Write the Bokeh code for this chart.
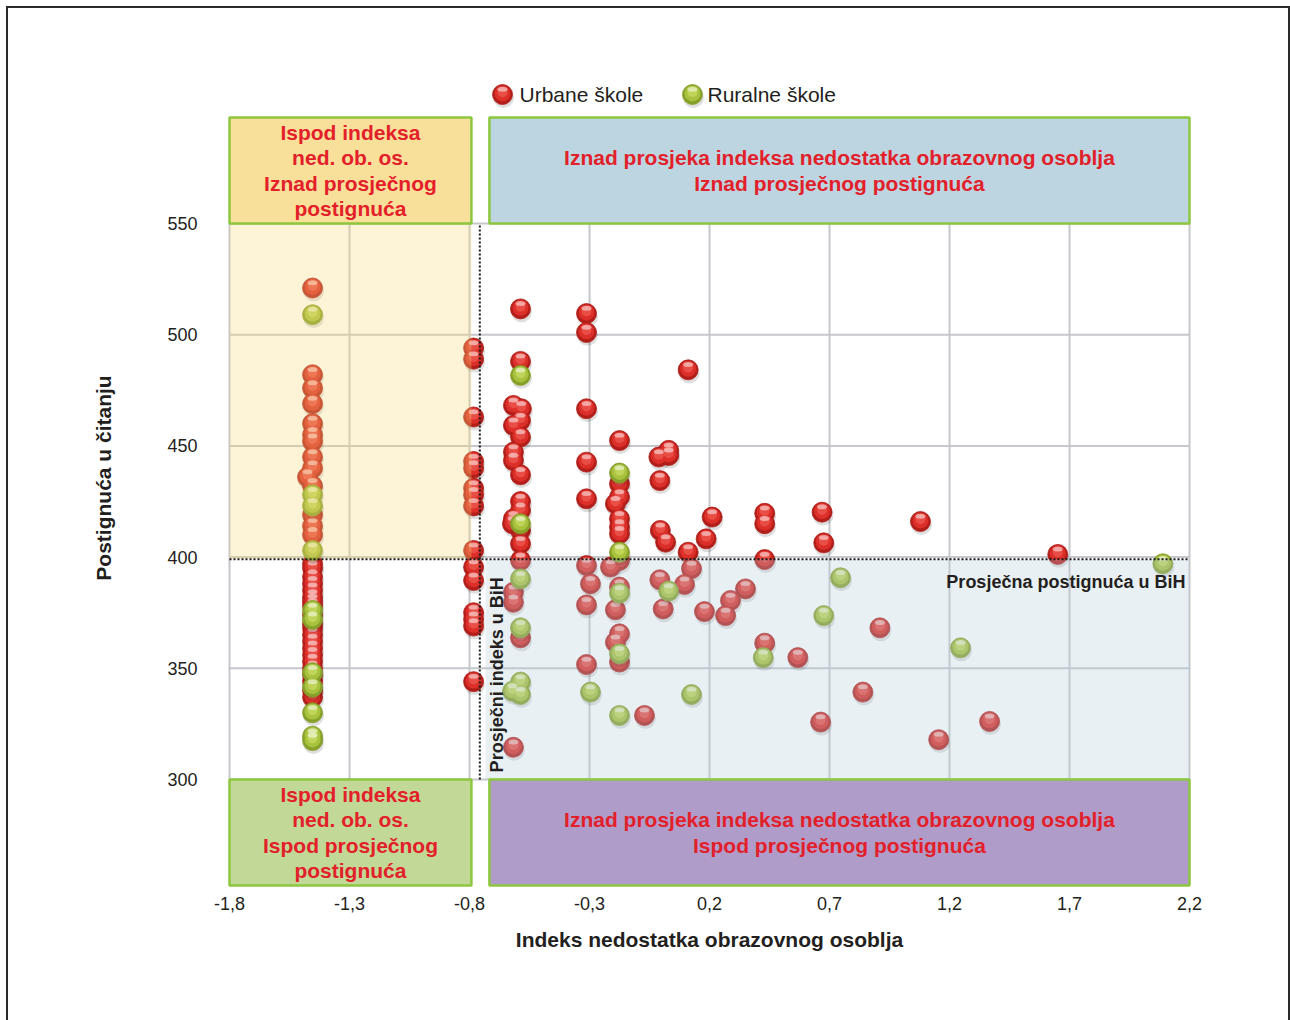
import numpy as np
from bokeh.plotting import figure
from bokeh.models import FixedTicker, Range1d
from bokeh.embed import file_html
from bokeh.resources import INLINE
from bokeh.core.properties import value

# ---------------- data ----------------
urban_x = (
    [-1.454] * 9 + [-1.475] + [-1.454] * 25
    + [-0.783] * 15
    + [-0.5875, -0.5875, -0.584, -0.5875, -0.5875, -0.5875, -0.5875, -0.5875, -0.5875, -0.5875, -0.5875, -0.5875]
    + [-0.617, -0.617, -0.617, -0.617, -0.617, -0.621, -0.617, -0.617, -0.617]
    + [-0.3125, -0.3125, -0.3125, -0.3125, -0.3125, -0.3125, -0.3125, -0.3125, -0.296]
    + [-0.2125]
    + [-0.175] * 10
    + [-0.192, -0.192, -0.192]
    + [-0.071, -0.011, -0.007, -0.005, 0.017, 0.030, 0.030, -0.007, 0.007, 0.096, 0.111, 0.111,
       0.125, 0.179, 0.186, 0.211, 0.267, 0.2875, 0.35]
    + [0.430, 0.430, 0.430, 0.430, 0.568, 0.669, 0.676, 0.663, 0.839, 0.910, 1.079, 1.155, 1.367, 1.651]
)
urban_y = (
    [521, 482, 476, 469, 460, 455, 452, 445, 440, 436, 432, 419, 414, 410, 397, 395, 391, 388, 385,
     382, 380, 378, 374, 370, 368, 365, 362, 359, 356, 353, 350, 347, 344, 340, 337]
    + [494, 489, 463, 443, 440, 431, 428, 423, 403, 395.5, 389.5, 375, 372, 369, 344]
    + [511.6, 488, 466.7, 461.4, 454, 437, 425, 421, 412, 406, 398.5, 363.7]
    + [468.2, 459.2, 447.2, 443.4, 417.2, 415, 384.2, 379.7, 314.5]
    + [509.5, 501, 466.7, 442.7, 426.2, 396.2, 378.5, 351.7, 388]
    + [395.5]
    + [452.4, 433, 427, 417.2, 413.5, 410.5, 398.5, 386.5, 365.5, 352.8]
    + [424, 376.3, 361.7]
    + [328.8, 445, 434.4, 412, 406.7, 448, 445.7, 389.8, 376.7, 387.7, 484.2, 402.2,
       394.8, 375.5, 408.2, 418, 373.7, 380.5, 385.7]
    + [419.7, 415, 398.9, 361.3, 354.8, 420.2, 406.4, 325.8, 339.3, 368.2, 416, 317.9, 326.1, 401.2]
)
rural_x = (
    [-1.454] * 11
    + [-0.5875, -0.5875, -0.5875, -0.5875, -0.5875, -0.5875, -0.621]
    + [-0.296]
    + [-0.175] * 5
    + [0.030, 0.125, 0.424, 0.676, 0.746, 1.246, 2.089]
)
rural_y = (
    [509, 428, 423, 403, 376, 372, 348, 341.5, 330, 319.5, 317.5]
    + [481.7, 415, 390.2, 368.2, 343.8, 338.2, 339.7]
    + [339.3]
    + [437.8, 402.2, 383.8, 356.5, 328.8]
    + [384.7, 338.2, 354.8, 373.7, 390.7, 359.2, 397]
)

series_names = ["Urbane škole", "Ruralne škole"]
x_ticks = [-1.8, -1.3, -0.8, -0.3, 0.2, 0.7, 1.2, 1.7, 2.2]
x_tick_labels = ["-1,8", "-1,3", "-0,8", "-0,3", "0,2", "0,7", "1,2", "1,7", "2,2"]
y_ticks = [300, 350, 400, 450, 500, 550]

avg_index = -0.757      # Prosječni indeks u BiH
avg_score = 399         # Prosječna postignuća u BiH

box_texts = {
    "tl": "Ispod indeksa\nned. ob. os.\nIznad prosječnog\npostignuća",
    "tr": "Iznad prosjeka indeksa nedostatka obrazovnog osoblja\nIznad prosječnog postignuća",
    "bl": "Ispod indeksa\nned. ob. os.\nIspod prosječnog\npostignuća",
    "br": "Iznad prosjeka indeksa nedostatka obrazovnog osoblja\nIspod prosječnog postignuća",
}

# ---------------- layout constants ----------------
X0, X1 = x_ticks[0], x_ticks[-1]
Y0, Y1 = y_ticks[0], y_ticks[-1]
left_box_right = -0.792
right_box_left = -0.717
blue_left = -0.733
band_h = 47.66

FONT = value("Liberation Sans")
TXT = "#231f20"
RED_TXT = "#e3202a"

p = figure(width=1290, height=1020,
           x_range=Range1d(-1.8417, 2.2417), y_range=Range1d(247.84, 623.29),
           output_backend="svg", toolbar_location=None,
           min_border_left=219, min_border_right=91, min_border_top=60, min_border_bottom=125)
p.outline_line_color = None
p.background_fill_color = "white"
p.border_fill_color = None
p.xgrid.visible = False
p.ygrid.visible = False
# thin dark frame around the panel (top, left, right edges)
p.styles = {
    "background-color": "white",
    "box-shadow": "inset 6px 6px 0 0 #ffffff, inset 8px 8px 0 0 #2a2a2a, inset -2px 0 0 0 #2a2a2a",
}

for ax in (p.xaxis[0], p.yaxis[0]):
    ax.axis_line_color = None
    ax.major_tick_line_color = None
    ax.minor_tick_line_color = None
    ax.major_label_text_font = "Liberation Sans"
    ax.major_label_text_font_size = "18px"
    ax.major_label_text_color = TXT
    ax.axis_label_text_font = "Liberation Sans"
    ax.axis_label_text_font_style = "bold"
    ax.axis_label_text_font_size = "21px"
    ax.axis_label_text_color = TXT

p.xaxis.ticker = FixedTicker(ticks=x_ticks)
p.xaxis.major_label_overrides = dict(zip(x_ticks, x_tick_labels))
p.xaxis.major_label_standoff = -5
p.xaxis.axis_label = "Indeks nedostatka obrazovnog osoblja"
p.xaxis.axis_label_standoff = 15
p.yaxis.ticker = FixedTicker(ticks=y_ticks)
p.yaxis.major_label_standoff = 16
p.yaxis.axis_label = "Postignuća u čitanju"
p.yaxis.axis_label_standoff = 49

# gridlines
GRID = "#c6c7cc"
p.segment(x0=x_ticks, y0=[Y0] * len(x_ticks), x1=x_ticks, y1=[Y1] * len(x_ticks),
          line_color=GRID, line_width=2)
p.segment(x0=[X0] * len(y_ticks), y0=y_ticks, x1=[X1] * len(y_ticks), y1=y_ticks,
          line_color=GRID, line_width=2)

ux = np.array(urban_x); uy = np.array(urban_y)
rx = np.array(rural_x); ry = np.array(rural_y)

def spheres(xs, ys, fill, edge, light):
    p.scatter(xs + 0.004, ys - 1.3, size=21, fill_color="black", fill_alpha=0.13, line_color=None)
    p.scatter(xs, ys, size=20, fill_color=edge, line_color=edge, line_alpha=0.8, line_width=1)
    p.scatter(xs, ys + 0.5, size=16, fill_color=fill, line_color=None)
    p.scatter(xs, ys + 1.0, size=10, fill_color=light, fill_alpha=0.6, line_color=None)
    p.ellipse(xs, ys + 2.4, width=10, height=5, width_units="screen", height_units="screen",
              fill_color="white", fill_alpha=0.5, line_color=None)

spheres(ux, uy, "#dc2f29", "#b21f1a", "#f0645a")
spheres(rx, ry, "#a8c23e", "#86a02a", "#cfe06a")

# quadrant tint overlays
p.quad(left=X0, right=left_box_right, bottom=avg_score, top=Y1,
       fill_color=(248, 215, 118), fill_alpha=0.3, line_color=None)
p.quad(left=blue_left, right=X1, bottom=Y0, top=avg_score,
       fill_color=(182, 205, 218), fill_alpha=0.3, line_color=None)

# average lines
p.segment(x0=[avg_index], y0=[Y0], x1=[avg_index], y1=[Y1],
          line_color="#1a1a1a", line_width=2, line_dash="2 2")
p.segment(x0=[X0], y0=[avg_score], x1=[X1], y1=[avg_score],
          line_color="#1a1a1a", line_width=2, line_dash="2 2")

# header / footer boxes
BORDER = "#8dc63f"
boxes = [
    (X0, left_box_right, Y1, Y1 + band_h, "#f9e09a", box_texts["tl"]),
    (right_box_left, X1, Y1, Y1 + band_h, "#bcd5e1", box_texts["tr"]),
    (X0, left_box_right, Y0 - band_h, Y0, "#c2d896", box_texts["bl"]),
    (right_box_left, X1, Y0 - band_h, Y0, "#b09cc9", box_texts["br"]),
]
for l, r, b, t, c, s in boxes:
    p.quad(left=l, right=r, bottom=b, top=t, fill_color=c, line_color=BORDER, line_width=2.5)
    p.text(x=[(l + r) / 2], y=[(b + t) / 2], text=[s], text_font=FONT, text_font_style="bold",
           text_font_size="21px", text_color=RED_TXT, text_align="center", text_baseline="middle",
           text_line_height=1.1)

p.text(x=[avg_index + 0.0695], y=[Y0 + 3.2], text=["Prosječni indeks u BiH"], angle=np.pi / 2,
       text_font=FONT, text_font_style="bold", text_font_size="18px", text_color=TXT,
       text_align="left", text_baseline="middle")
p.text(x=[X1 - 0.017], y=[avg_score - 10], text=["Prosječna postignuća u BiH"],
       text_font=FONT, text_font_style="bold", text_font_size="18px", text_color=TXT,
       text_align="right", text_baseline="middle")

# legend (drawn)
leg_y = np.array([608.0])
spheres(np.array([-0.6625]), leg_y, "#dc2f29", "#b21f1a", "#f0645a")
spheres(np.array([0.129]), leg_y, "#a8c23e", "#86a02a", "#cfe06a")
p.text(x=[-0.5917, 0.1917], y=[608.0, 608.0], text=series_names, text_font=FONT,
       text_font_size="21px", text_color=TXT, text_align="left", text_baseline="middle")

open("out.html", "w").write(file_html(p, INLINE))
